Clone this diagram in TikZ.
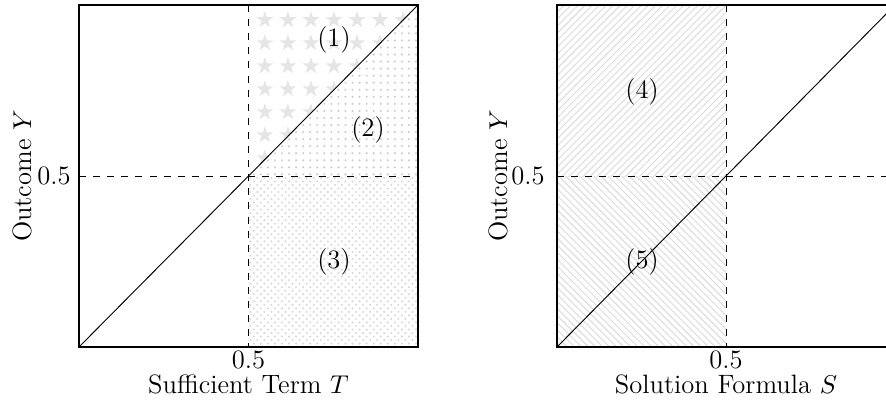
\documentclass[tikz,border=0pt]{standalone}
\usetikzlibrary{patterns}
\pgfdeclarepatternformonly{bigstars}{\pgfpoint{-1pt}{-1pt}}{\pgfpoint{11pt}{11pt}}{\pgfpoint{9.8pt}{9.8pt}}{%
  \pgftransformshift{\pgfpoint{4.9pt}{4.9pt}}%
  \pgfpathmoveto{\pgfpointpolar{90}{3.8pt}}%
  \pgfpathlineto{\pgfpointpolar{234}{3.8pt}}%
  \pgfpathlineto{\pgfpointpolar{18}{3.8pt}}%
  \pgfpathlineto{\pgfpointpolar{162}{3.8pt}}%
  \pgfpathlineto{\pgfpointpolar{306}{3.8pt}}%
  \pgfpathclose
  \pgfusepath{fill}%
}
\begin{document}
\begin{tikzpicture}[x=0.4255pt,y=-0.4255pt,
  font=\fontsize{11.3}{13.5}\selectfont,
  lbl/.style={inner sep=0pt},
  frame/.style={line width=0.45pt},
  guide/.style={dashed,line width=0.4pt},
  pcol/.style={pattern color=black!20}]
\useasboundingbox (0,0) rectangle (886,400);
\clip (0,0) rectangle (886,400);
% ---------- left plot ----------
\coordinate (A0) at (79,347);
\coordinate (A1) at (418,5);
\coordinate (Am) at (248.5,176);
\fill[pattern color=black!10,pattern=bigstars] (Am) -- (Am|-A1) -- (A1) -- cycle;
\fill[pcol,pattern=dots] (Am) -- (A1) -- (A1|-Am) -- cycle;
\fill[pattern color=black!15,pattern=crosshatch dots] (Am) rectangle (A1|-A0);
\draw[guide] (Am|-A1) -- (Am|-A0);
\draw[guide] (A0|-Am) -- (A1|-Am);
\draw[frame] (A0) rectangle (A1);
\draw[line width=0.4pt] (A0) -- (A1);
\node[lbl] (r1) at (334,40) {(1)};
\node[lbl] (r2) at (368,130) {(2)};
\node[lbl] (r3) at (334,262) {(3)};
\node[lbl,anchor=east] (ytA) at (71,176) {0.5};
\node[rotate=90] (ylabA) at (22,176) {Outcome $Y$};
\node[lbl,anchor=base] (xtA) at (248.5,368) {0.5};
\node[lbl,anchor=base] (xlabA) at (248.5,393) {Sufficient Term $T$};
% ---------- right plot ----------
\coordinate (B0) at (557,347);
\coordinate (B1) at (895,5);
\coordinate (Bm) at (726,176);
\fill[pattern color=black!14,pattern=north east lines] (B0|-B1) rectangle (Bm);
\fill[pattern color=black!14,pattern=north west lines] (B0) rectangle (Bm);
\draw[guide] (Bm|-B1) -- (Bm|-B0);
\draw[guide] (B0|-Bm) -- (B1|-Bm);
\draw[frame] (B0) rectangle (B1);
\draw[line width=0.4pt] (B0) -- (B1);
\node[lbl] (r4) at (642,92) {(4)};
\node[lbl] (r5) at (642,262) {(5)};
\node[lbl,anchor=east] (ytB) at (545,176) {0.5};
\node[rotate=90] (ylabB) at (498,176) {Outcome $Y$};
\node[lbl,anchor=base] (xtB) at (726,368) {0.5};
\node[lbl,anchor=base] (xlabB) at (726,393) {Solution Formula $S$};
\end{tikzpicture}
\end{document}
